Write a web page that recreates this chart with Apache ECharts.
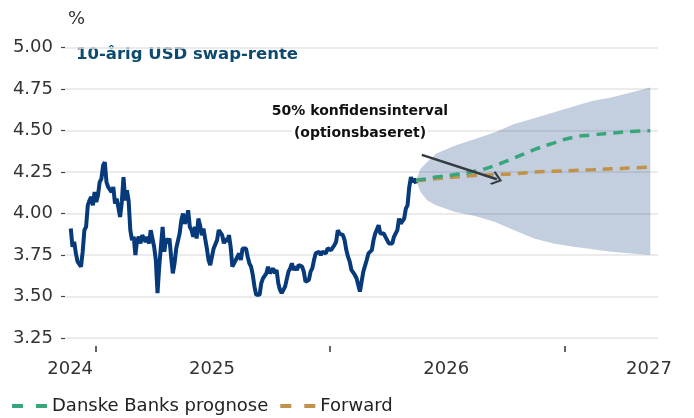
<!DOCTYPE html>
<html>
<head>
<meta charset="utf-8">
<script src="https://cdn.jsdelivr.net/npm/echarts@6/dist/echarts.min.js"></script>
<style>
  html, body { margin: 0; padding: 0; background: #fff; }
  #chart { width: 694px; height: 418px; }
</style>
</head>
<body>
<div id="chart"></div>
<script>
// historic 10y USD swap rate, evenly spaced from histStart to histEnd
const histStart = '2024-11-23';
const histEnd = '2026-05-15';
const histValues = [
  3.91, 3.80, 3.83, 3.76, 3.71, 3.72, 3.68, 3.77, 3.90, 3.92,
  4.05, 4.08, 4.10, 4.05, 4.13, 4.07, 4.11, 4.19, 4.21, 4.29,
  4.31, 4.19, 4.16, 4.17, 4.13, 4.16, 4.06, 4.09, 4.08, 3.98,
  4.07, 4.22, 4.08, 4.14, 4.08, 3.90, 3.84, 3.86, 3.75, 3.84,
  3.86, 3.82, 3.87, 3.88, 3.83, 3.86, 3.82, 3.90, 3.90, 3.80,
  3.72, 3.52, 3.68, 3.80, 3.92, 3.77, 3.85, 3.82, 3.85, 3.74,
  3.64, 3.70, 3.79, 3.80, 3.88, 3.96, 4.00, 3.94, 3.96, 4.02,
  3.92, 3.90, 3.86, 3.92, 3.85, 3.97, 3.93, 3.87, 3.91, 3.85,
  3.79, 3.72, 3.69, 3.70, 3.79, 3.79, 3.84, 3.90, 3.91, 3.87,
  3.82, 3.85, 3.83, 3.87, 3.80, 3.68, 3.67, 3.72, 3.74, 3.76,
  3.72, 3.79, 3.80, 3.79, 3.74, 3.70, 3.68, 3.63, 3.56, 3.51,
  3.50, 3.51, 3.58, 3.61, 3.61, 3.64, 3.68, 3.64, 3.63, 3.67,
  3.64, 3.66, 3.58, 3.54, 3.52, 3.51, 3.56, 3.57, 3.65, 3.67,
  3.70, 3.66, 3.68, 3.66, 3.69, 3.70, 3.68, 3.65, 3.59, 3.58,
  3.60, 3.65, 3.67, 3.72, 3.76, 3.77, 3.77, 3.75, 3.77, 3.78,
  3.76, 3.79, 3.80, 3.78,
  3.78, 3.81, 3.83, 3.90, 3.88, 3.87, 3.87, 3.84, 3.78, 3.74,
  3.71, 3.66, 3.65, 3.63, 3.61, 3.60, 3.53, 3.59, 3.65, 3.64,
  3.72, 3.76, 3.75, 3.78, 3.84, 3.88, 3.87, 3.93, 3.88, 3.87,
  3.88, 3.86, 3.84, 3.82, 3.83, 3.82, 3.86, 3.87, 3.90, 3.97,
  3.94, 3.95, 3.97, 4.03, 4.05, 4.16, 4.22, 4.19, 4.21, 4.18
];

// forecast horizon
const fcDates = [
  '2026-05-15', '2026-05-22', '2026-06-01', '2026-06-15', '2026-07-15',
  '2026-08-15', '2026-09-15', '2026-10-15', '2026-11-15', '2026-12-15',
  '2027-01-15', '2027-02-15', '2027-03-15', '2027-04-15', '2027-05-15'
];
const prognose = [4.20, 4.205, 4.21, 4.22, 4.235, 4.255, 4.29, 4.335, 4.385, 4.425, 4.46, 4.475, 4.485, 4.495, 4.50];
const forward = [4.20, 4.20, 4.205, 4.21, 4.22, 4.23, 4.235, 4.24, 4.25, 4.255, 4.26, 4.265, 4.27, 4.275, 4.28];
const bandUpper = [4.20, 4.27, 4.31, 4.36, 4.41, 4.45, 4.49, 4.54, 4.575, 4.61, 4.645, 4.68, 4.70, 4.73, 4.76];
const bandLower = [4.20, 4.13, 4.08, 4.05, 4.01, 3.985, 3.95, 3.90, 3.85, 3.82, 3.80, 3.785, 3.77, 3.76, 3.75];

// axis
const xMin = '2024-11-14';
const xMax = '2027-05-27';
const yearTicks = ['2025-01-01', '2026-01-01', '2027-01-01'];
const yearLabelDates = ['2024-11-22', '2025-07-01', '2026-07-01', '2027-05-13'];

// annotation arrow, in data coordinates
const arrowFrom = ['2026-05-24', 4.354];
const arrowTo = ['2026-09-18', 4.207];

const FONT = 'DejaVu Sans';
const ts = (d) => new Date(d + 'T00:00:00Z').getTime();

const t0 = ts(histStart), t1 = ts(histEnd);
const histData = histValues.map((v, i) => [t0 + (t1 - t0) * i / (histValues.length - 1), v]);
const progData = fcDates.map((d, i) => [ts(d), prognose[i]]);
const fwdData = fcDates.map((d, i) => [ts(d), forward[i]]);
const bandData = fcDates.map((d, i) => [ts(d), bandLower[i], bandUpper[i]]);

// two-dash legend icon
const dashIcon = 'path://M0,0H11V4H0Z M24,0H35V4H24Z';

function renderBand(params, api) {
  if (params.dataIndex !== 0) return null;
  const top = bandData.map((d) => api.coord([d[0], d[2]]));
  const bottom = bandData.map((d) => api.coord([d[0], d[1]])).reverse();
  return {
    type: 'polygon',
    shape: { points: top.concat(bottom) },
    style: { fill: 'rgba(40, 80, 140, 0.28)' }
  };
}

const chart = echarts.init(document.getElementById('chart'));
chart.setOption({
  animation: false,
  grid: { left: 65, right: 36, top: 47.7, bottom: 80, containLabel: false },
  xAxis: {
    type: 'value',
    min: ts(xMin),
    max: ts(xMax),
    offset: 8,
    axisLine: { show: false },
    axisTick: {
      show: true, length: 6, customValues: yearTicks.map(ts),
      lineStyle: { color: '#333', width: 1.5 }
    },
    axisLabel: {
      customValues: yearLabelDates.map(ts),
      formatter: (v) => String(new Date(v).getUTCFullYear()),
      color: '#333', fontFamily: FONT, fontSize: 18, margin: 14
    },
    splitLine: { show: false }
  },
  yAxis: {
    type: 'value',
    min: 3.25, max: 5.0, interval: 0.25,
    axisLine: { show: false },
    axisTick: { show: true, length: 4, lineStyle: { color: '#444', width: 1.2 } },
    axisLabel: {
      formatter: (v) => v.toFixed(2),
      color: '#333', fontFamily: FONT, fontSize: 18, margin: 12
    },
    splitLine: { lineStyle: { color: '#e4e4e4', width: 1.5 } }
  },
  legend: {
    left: 12, top: 397, padding: 0,
    itemWidth: 35, itemHeight: 4, itemGap: 12,
    textStyle: { fontFamily: FONT, fontSize: 18, color: '#222' },
    data: [
      { name: 'Danske Banks prognose', icon: dashIcon },
      { name: 'Forward', icon: dashIcon }
    ]
  },
  graphic: [
    { type: 'text', left: 68, top: 10, style: { text: '%', font: '18px "DejaVu Sans"', fill: '#333' } },
    { type: 'text', left: 76, top: 46, style: { text: '10-årig USD swap-rente', font: 'bold 16.5px "DejaVu Sans"', fill: '#0d4a70' } },
    {
      type: 'text', x: 360, y: 103, z: 10,
      style: { text: '50% konfidensinterval', font: 'bold 14px "DejaVu Sans"', fill: '#111', align: 'center', backgroundColor: '#fff', padding: [1, 2] }
    },
    {
      type: 'text', x: 360, y: 125, z: 10,
      style: { text: '(optionsbaseret)', font: 'bold 14px "DejaVu Sans"', fill: '#111', align: 'center', backgroundColor: '#fff', padding: [1, 2] }
    }
  ],
  series: [
    {
      name: 'band', type: 'custom', data: bandData,
      encode: { x: 0, y: [1, 2] }, renderItem: renderBand, silent: true, z: 1
    },
    {
      name: '10-årig USD swap-rente', type: 'line', data: histData,
      symbol: 'none', lineStyle: { color: '#073a7a', width: 4 }, z: 3
    },
    {
      name: 'Forward', type: 'line', data: fwdData, smooth: true,
      symbol: 'none', itemStyle: { color: '#c1924a' },
      lineStyle: { color: '#c1924a', width: 3.5, type: [10, 7] }, z: 4
    },
    {
      name: 'Danske Banks prognose', type: 'line', data: progData, smooth: true,
      symbol: 'none', itemStyle: { color: '#38a57a' },
      lineStyle: { color: '#38a57a', width: 3.5, type: [10, 7] }, z: 4,
      markLine: {
        silent: true, animation: false,
        symbol: ['none', 'path://M0,0 L10,9 L8.4,11 L0,3.4 L-8.4,11 L-10,9 Z'],
        symbolSize: [14, 11],
        label: { show: false },
        lineStyle: { color: '#333a40', width: 2.5, type: 'solid' },
        data: [[
          { coord: [ts(arrowFrom[0]), arrowFrom[1]] },
          { coord: [ts(arrowTo[0]), arrowTo[1]] }
        ]]
      }
    }
  ]
});
</script>
</body>
</html>
